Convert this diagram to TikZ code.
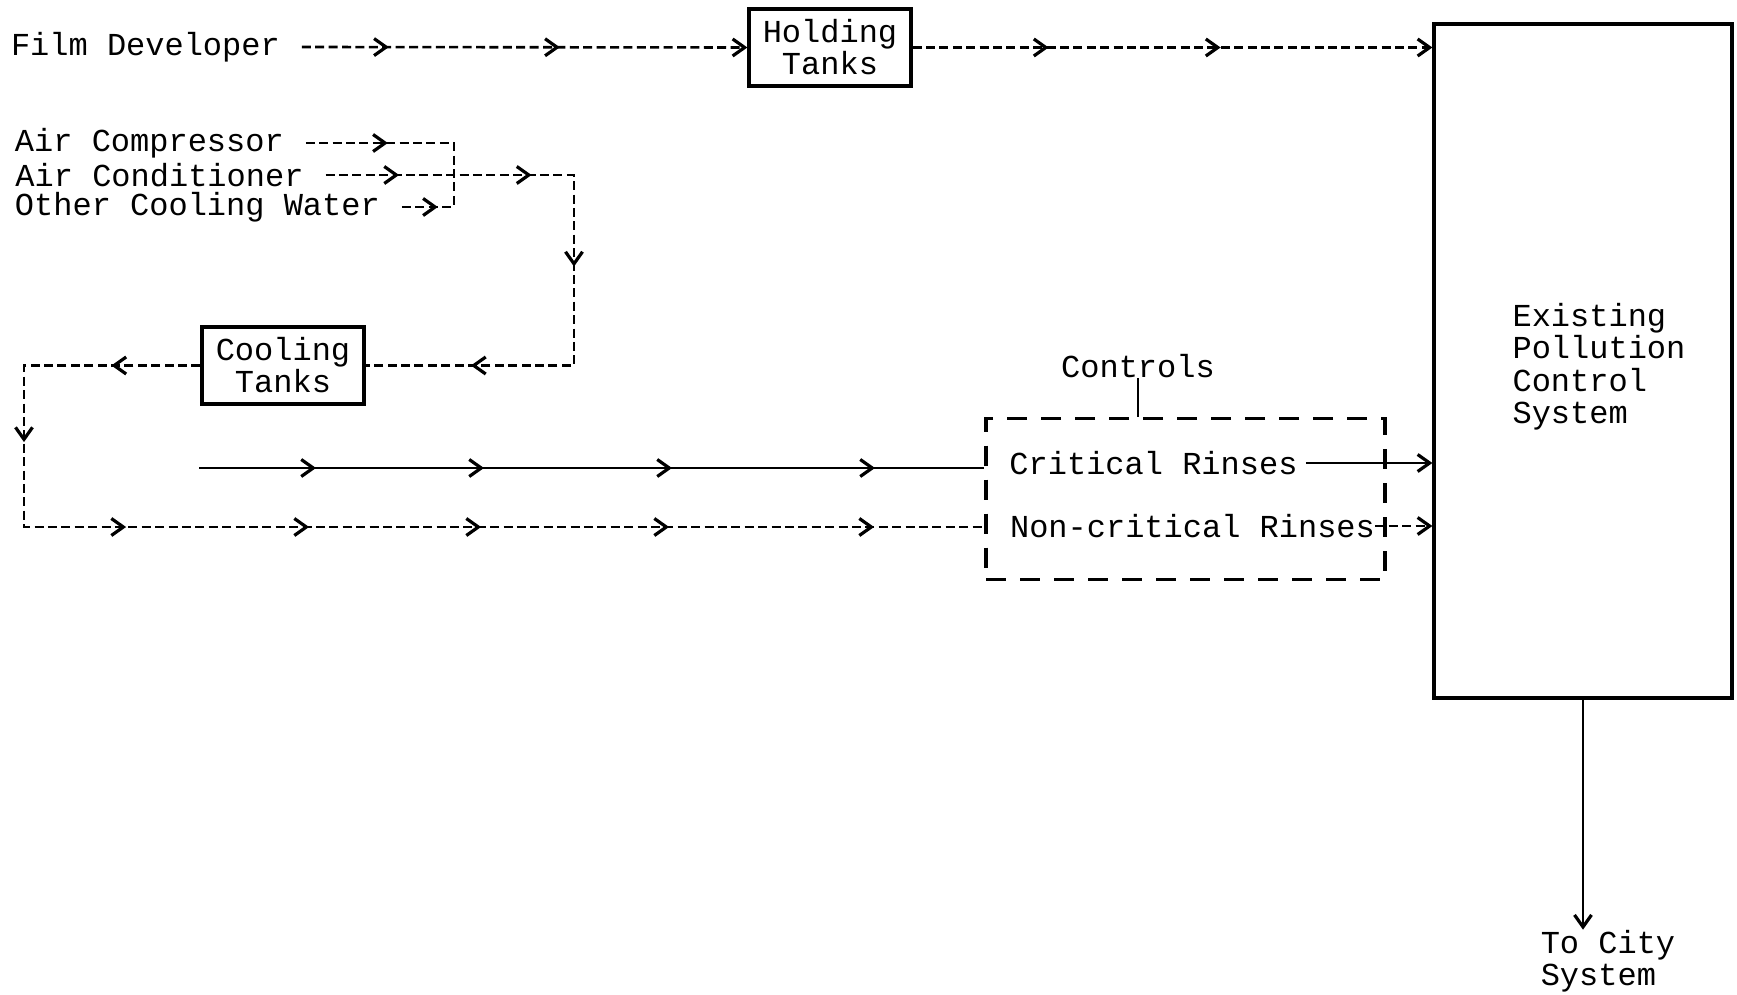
\documentclass[tikz,border=0pt]{standalone}
\usepackage{fontspec}
\setmainfont{Liberation Mono}
\usetikzlibrary{arrows.meta,decorations.markings,calc}
\tikzset{
 every node/.style={font=\fontsize{16pt}{16pt}\selectfont},
 flow/.style={line width=1.3pt, dash pattern=on 4.5pt off 2.2pt},
 sflow/.style={line width=1.3pt},
 ar/.style={postaction={decorate,decoration={markings,mark=at position #1 with {\arrow{Straight Barb[length=6pt,width=8.5pt,line width=1.6pt]}}}}},
 tank/.style={draw, line width=1.6pt, minimum width=81pt, minimum height=38.5pt, align=center, inner sep=0pt},
 src/.style={inner sep=0pt, outer xsep=11pt, anchor=west},
 endtip/.style={-{Straight Barb[length=6pt,width=8.5pt,line width=1.6pt]}}
}
\begin{document}
\begin{tikzpicture}[x=0.5pt,y=-0.5pt]
\useasboundingbox (0,0) rectangle (1737,995);
% nodes
\node[src] (fd) at (-11,47) {Film Developer};
\node[tank] (ht) at (830,47.5) {Holding\\Tanks};
\node[draw, line width=1.6pt, minimum width=149pt, minimum height=337pt, inner sep=0pt] (pcs) at (1583,361)
  {\hspace*{16pt}\raisebox{-3.5pt}[\height][\depth]{\begin{tabular}{@{}l@{}}Existing\\Pollution\\Control\\System\end{tabular}}};
\node[src] (ac) at (-7,143) {Air Compressor};
\node[src] (acd) at (-6.5,175) {Air Conditioner};
\node[src] (ocw) at (-7,207) {Other Cooling Water};
\node[tank] (ct) at (283,365.5) {Cooling\\Tanks};
\node[draw, dash pattern=on 10pt off 7pt, line width=1.6pt, minimum width=199.5pt, minimum height=80.5pt] (ctl) at (1185.5,499) {};
\node[inner sep=0pt] (cr) at (1153.5,463) {Critical Rinses};
\node[inner sep=0pt] (nc) at (1192.5,526) {Non-critical Rinses};
\node[inner sep=0pt] (ctrl) at (1138,366) {Controls};
\node[inner sep=0pt, align=left] (city) at (1608,961) {To City\\System};
% coordinates
\coordinate (jA) at (454,143);
\coordinate (jO) at (454,207);
\coordinate (jC) at (574,175);
\coordinate (jL) at (24,365.5);
\coordinate (jB) at (24,527);
\coordinate (ss) at (199,468);
% connectors
\draw[flow, ar=43.5pt, ar=129pt, endtip] (fd.east) -- (ht.west);
\draw[flow, ar=68pt, ar=154pt, endtip] (ht.east) -- (ht.east -| pcs.west);
\draw[flow, ar=41pt] (ac.east) -- (jA) -- (jO);
\draw[flow, ar=18pt] (ocw.east) -- (jO);
\draw[flow, ar=36.75pt, ar=103pt, ar=170pt, ar=271pt] (acd.east) -- (jC) -- (jC |- ct.east) -- (ct.east);
\draw[flow, ar=44.5pt, ar=126.5pt, ar=220pt, ar=311.5pt, ar=397.5pt, ar=491.5pt, ar=594pt] (ct.west) -- (jL) -- (jB) -- (jB -| ctl.west);
\draw[sflow, ar=58.5pt, ar=142.5pt, ar=236.5pt, ar=338pt] (ss) -- (ss -| ctl.west);
\draw[sflow, endtip, shorten <=4pt] (cr.east) -- (cr.east -| pcs.west);
\draw[flow, endtip] (nc.east) -- (nc.east -| pcs.west);
\draw[sflow] (ctrl.south) -- (ctrl.south |- ctl.north);
\draw[sflow, endtip] (pcs.south) -- (pcs.south |- city.north);
\end{tikzpicture}
\end{document}
